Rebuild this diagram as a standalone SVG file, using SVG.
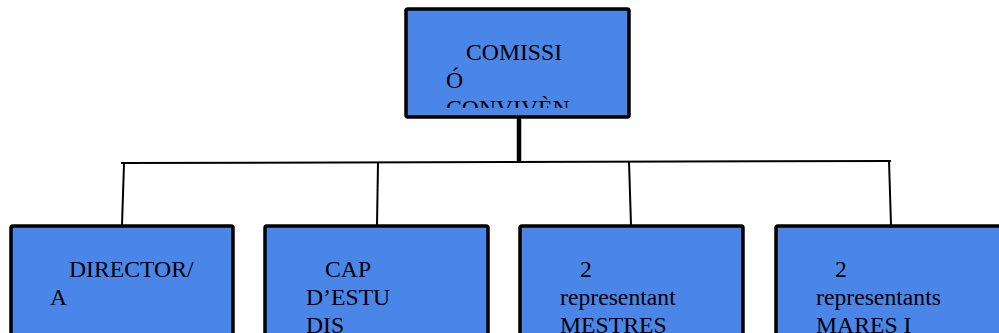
<svg xmlns="http://www.w3.org/2000/svg" width="999" height="333" viewBox="0 0 999 333">
<style>
.box{fill:#4a86e8;stroke:#000;stroke-width:3.5}
.t{font-family:"Liberation Serif",serif;font-size:23.7px;fill:#000}
.c{stroke:#000;stroke-width:2;fill:none}
</style>
<defs>
<clipPath id="topclip"><rect x="405" y="9" width="224" height="99"/></clipPath>
</defs>
<rect width="999" height="333" fill="#fff"/>
<g id="connectors">
<line class="c" x1="519" y1="118" x2="519" y2="162" style="stroke-width:4.5"/>
<line class="c" x1="121" y1="163" x2="891" y2="161"/>
<line class="c" x1="124" y1="164" x2="122" y2="225"/>
<line class="c" x1="378" y1="163" x2="377" y2="225"/>
<line class="c" x1="629" y1="162" x2="631" y2="225"/>
<line class="c" x1="889" y1="161" x2="891" y2="225"/>
</g>
<g id="comissio">
<rect class="box" x="406" y="9" width="223" height="108" rx="2"/>
<g clip-path="url(#topclip)">
<text class="t" x="466" y="60">COMISSI</text>
<text class="t" x="446" y="88">Ó</text>
<text class="t" x="446" y="116">CONVIVÈN</text>
</g>
</g>
<g id="director">
<rect class="box" x="11" y="226" width="222" height="120" rx="2"/>
<text class="t" x="69" y="277">DIRECTOR/</text>
<text class="t" x="50" y="305">A</text>
</g>
<g id="capestudis">
<rect class="box" x="265" y="226" width="223" height="120" rx="2"/>
<text class="t" x="325" y="277">CAP</text>
<text class="t" x="306" y="305">D’ESTU</text>
<text class="t" x="306" y="333">DIS</text>
</g>
<g id="mestres">
<rect class="box" x="520" y="226" width="223" height="120" rx="2"/>
<text class="t" x="580" y="277">2</text>
<text class="t" x="560" y="305">representant</text>
<text class="t" x="560" y="333">MESTRES</text>
</g>
<g id="mares">
<rect class="box" x="776" y="226" width="240" height="120" rx="2"/>
<text class="t" x="835" y="277">2</text>
<text class="t" x="816" y="305">representants</text>
<text class="t" x="816" y="333">MARES I</text>
</g>
</svg>
